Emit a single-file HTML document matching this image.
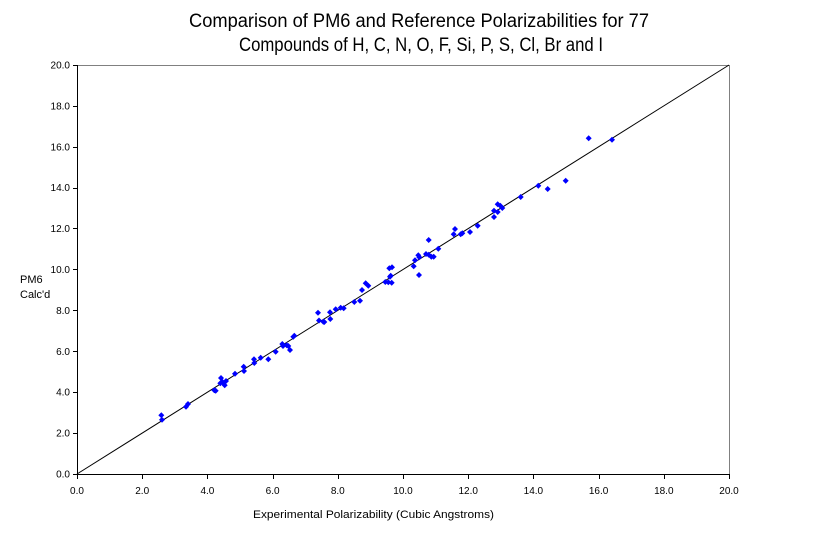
<!DOCTYPE html>
<html><head><meta charset="utf-8"><style>
html,body{margin:0;padding:0;background:#fff;}
svg{display:block;}
text{font-family:"Liberation Sans",Arial,sans-serif;fill:#000;}
</style></head><body>
<svg width="813" height="554" viewBox="0 0 813 554" xmlns="http://www.w3.org/2000/svg">
<rect width="813" height="554" fill="#fff"/>
<text x="419" y="27" font-size="19" text-anchor="middle" textLength="460" lengthAdjust="spacingAndGlyphs">Comparison of PM6 and Reference Polarizabilities for 77</text>
<text x="421" y="51" font-size="19" text-anchor="middle" textLength="364" lengthAdjust="spacingAndGlyphs">Compounds of H, C, N, O, F, Si, P, S, Cl, Br and I</text>
<line x1="77" y1="65.5" x2="729.5" y2="65.5" stroke="#808080"/>
<line x1="729.5" y1="65" x2="729.5" y2="474" stroke="#808080"/>
<line x1="77.5" y1="65" x2="77.5" y2="474.5" stroke="#000"/>
<line x1="77" y1="474.5" x2="730" y2="474.5" stroke="#000"/>
<path stroke="#000" fill="none" d="M73,474.5H77M73,433.5H77M73,392.5H77M73,351.5H77M73,310.5H77M73,269.5H77M73,228.5H77M73,188.5H77M73,147.5H77M73,106.5H77M73,65.5H77M77.5,474V479M142.5,474V479M207.5,474V479M273.5,474V479M338.5,474V479M403.5,474V479M468.5,474V479M533.5,474V479M599.5,474V479M664.5,474V479M729.5,474V479"/>
<g font-size="10" text-anchor="end">
<text x="70" y="477.5">0.0</text>
<text x="70" y="436.6">2.0</text>
<text x="70" y="395.7">4.0</text>
<text x="70" y="354.8">6.0</text>
<text x="70" y="313.9">8.0</text>
<text x="70" y="273">10.0</text>
<text x="70" y="232.1">12.0</text>
<text x="70" y="191.2">14.0</text>
<text x="70" y="150.3">16.0</text>
<text x="70" y="109.4">18.0</text>
<text x="70" y="68.5">20.0</text>
</g>
<g font-size="10" text-anchor="middle">
<text x="77" y="494">0.0</text>
<text x="142.2" y="494">2.0</text>
<text x="207.4" y="494">4.0</text>
<text x="272.6" y="494">6.0</text>
<text x="337.8" y="494">8.0</text>
<text x="403" y="494">10.0</text>
<text x="468.2" y="494">12.0</text>
<text x="533.4" y="494">14.0</text>
<text x="598.6" y="494">16.0</text>
<text x="663.8" y="494">18.0</text>
<text x="729" y="494">20.0</text>
</g>
<text x="20" y="283" font-size="11">PM6</text>
<text x="20" y="298" font-size="11">Calc'd</text>
<text x="373.5" y="518" font-size="11" text-anchor="middle" textLength="241" lengthAdjust="spacingAndGlyphs">Experimental Polarizability (Cubic Angstroms)</text>
<line x1="77" y1="474" x2="729" y2="65" stroke="#000"/>
<path fill="#0000ff" d="M161.3,412.3l3,3-3,3-3-3zM162,416.7l3,3-3,3-3-3zM186,403.7l3,3-3,3-3-3zM188,401l3,3-3,3-3-3zM214.3,387.3l3,3-3,3-3-3zM215.7,387.7l3,3-3,3-3-3zM221,375l3,3-3,3-3-3zM220.3,380.3l3,3-3,3-3-3zM222.3,378.7l3,3-3,3-3-3zM224.7,382.3l3,3-3,3-3-3zM226,378l3,3-3,3-3-3zM235,370.7l3,3-3,3-3-3zM243.7,363.7l3,3-3,3-3-3zM244,368l3,3-3,3-3-3zM254,356.3l3,3-3,3-3-3zM254.3,360l3,3-3,3-3-3zM260.7,354.7l3,3-3,3-3-3zM268.3,356.3l3,3-3,3-3-3zM275.7,348.7l3,3-3,3-3-3zM282.3,341l3,3-3,3-3-3zM283,343l3,3-3,3-3-3zM286.7,342.3l3,3-3,3-3-3zM288.3,343l3,3-3,3-3-3zM290,347l3,3-3,3-3-3zM293.3,333.7l3,3-3,3-3-3zM294.3,332.7l3,3-3,3-3-3zM319,317.5l3,3-3,3-3-3zM318,309.7l3,3-3,3-3-3zM323.3,318.7l3,3-3,3-3-3zM324.3,319l3,3-3,3-3-3zM330,309.3l3,3-3,3-3-3zM330.3,316l3,3-3,3-3-3zM335.7,306.3l3,3-3,3-3-3zM340.7,304.7l3,3-3,3-3-3zM343.7,305.3l3,3-3,3-3-3zM354.3,299l3,3-3,3-3-3zM360,297.7l3,3-3,3-3-3zM362,287l3,3-3,3-3-3zM365.7,280.3l3,3-3,3-3-3zM368.3,282.7l3,3-3,3-3-3zM385.3,279l3,3-3,3-3-3zM388.3,279.3l3,3-3,3-3-3zM391.7,279.7l3,3-3,3-3-3zM389.3,265.3l3,3-3,3-3-3zM392,264.3l3,3-3,3-3-3zM390,273.7l3,3-3,3-3-3zM390.7,272.7l3,3-3,3-3-3zM413.7,263.3l3,3-3,3-3-3zM415,257.3l3,3-3,3-3-3zM418.3,252.3l3,3-3,3-3-3zM419.3,254.3l3,3-3,3-3-3zM419,272l3,3-3,3-3-3zM428.7,237l3,3-3,3-3-3zM426,251l3,3-3,3-3-3zM428.7,251.7l3,3-3,3-3-3zM431.3,253.7l3,3-3,3-3-3zM433.7,253.7l3,3-3,3-3-3zM438.3,245.7l3,3-3,3-3-3zM453.7,231.3l3,3-3,3-3-3zM455,226l3,3-3,3-3-3zM460.7,231.3l3,3-3,3-3-3zM462.3,230.3l3,3-3,3-3-3zM470,229l3,3-3,3-3-3zM477.7,222.7l3,3-3,3-3-3zM494,207.7l3,3-3,3-3-3zM494,214l3,3-3,3-3-3zM497.7,201.3l3,3-3,3-3-3zM500.3,202.7l3,3-3,3-3-3zM497.7,209l3,3-3,3-3-3zM502.3,205l3,3-3,3-3-3zM520.7,194l3,3-3,3-3-3zM538.3,182.7l3,3-3,3-3-3zM547.7,186l3,3-3,3-3-3zM565.7,177.7l3,3-3,3-3-3zM588.7,135.3l3,3-3,3-3-3zM612,136.7l3,3-3,3-3-3z"/>
</svg>
</body></html>
